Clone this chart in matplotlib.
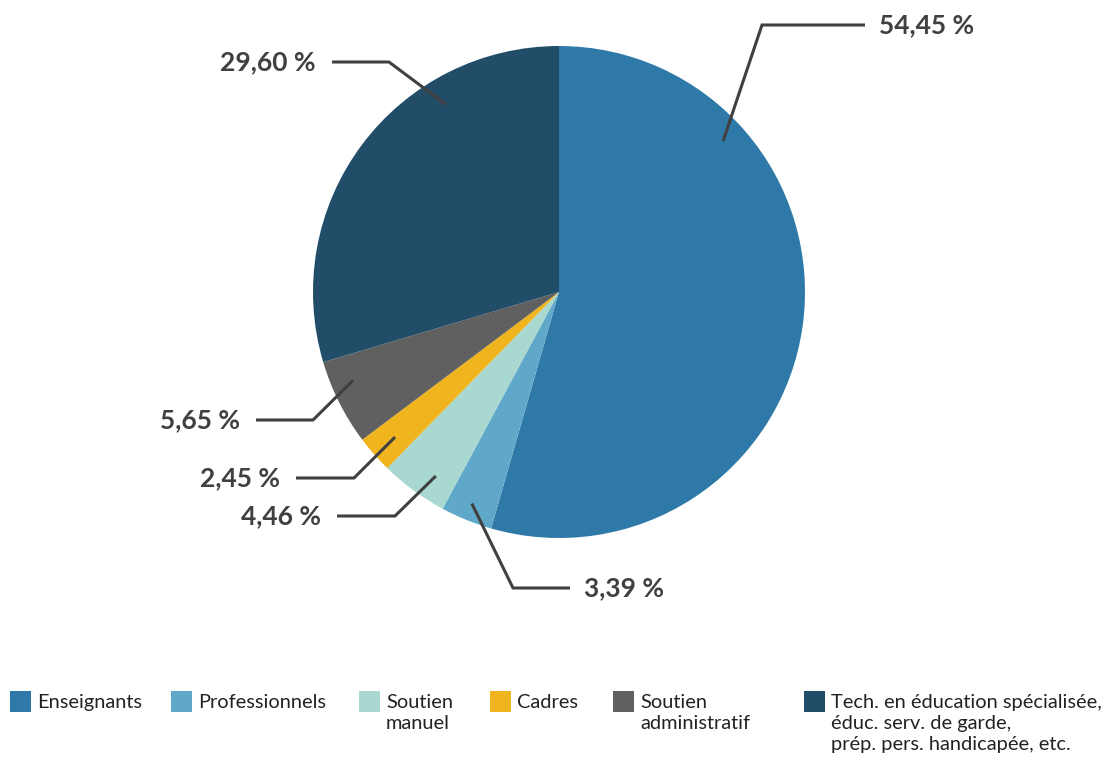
import numpy as np
import matplotlib.pyplot as plt
from matplotlib.patches import Rectangle

plt.rcParams['font.family'] = ['Lato', 'DejaVu Sans']

categories = ['Enseignants', 'Professionnels', 'Soutien\nmanuel', 'Cadres',
              'Soutien\nadministratif',
              'Tech. en éducation spécialisée,\néduc. serv. de garde,\nprép. pers. handicapée, etc.']
values = [54.45, 3.39, 4.46, 2.45, 5.65, 29.60]
colors = ['#2e79a8', '#5fa8c9', '#a8d8cf', '#f0b51e', '#606060', '#214d69']

W, H = 1107, 761
fig = plt.figure(figsize=(W / 100, H / 100), dpi=100)
ax = fig.add_axes([0, 0, 1, 1])
ax.set_xlim(0, W)
ax.set_ylim(0, H)
ax.set_aspect('equal')
ax.axis('off')

cx, cy, R = 559, H - 292, 246
ax.pie(values, colors=colors, startangle=90, counterclock=False,
       center=(cx, cy), radius=R, frame=True,
       wedgeprops=dict(linewidth=0))
ax.set_xlim(0, W)
ax.set_ylim(0, H)
ax.axis('off')

# leader layout: anchor angle (deg), anchor radius fraction, elbow (px), end x, text side
leaders = [
    (42.6, 0.906, (762, 25), 865, 'left'),
    (247.6, 0.93, (513, 588), 570, 'left'),
    (236.2, 0.90, (395, 516), 337, 'right'),
    (221.5, 0.89, (354, 478), 296, 'right'),
    (203.2, 0.91, (313, 420), 256, 'right'),
    (121.1, 0.89, (389, 62), 332, 'right'),
]
line_c = '#404040'
for v, (ang, rf, (ex, ey), endx, side) in zip(values, leaders):
    a = np.deg2rad(ang)
    x0, y0 = cx + rf * R * np.cos(a), cy + rf * R * np.sin(a)
    ax.plot([x0, ex, endx], [y0, H - ey, H - ey], color=line_c, lw=2.2,
            solid_capstyle='butt', solid_joinstyle='miter')
    lab = f'{v:.2f}'.replace('.', ',') + ' %'
    if side == 'left':
        ax.text(endx + 14, H - ey, lab, ha='left', va='center', fontsize=19,
                fontweight='bold', color=line_c)
    else:
        ax.text(endx - 16, H - ey, lab, ha='right', va='center', fontsize=19,
                fontweight='bold', color=line_c)

# legend
leg_x = [10, 171, 359, 490, 613, 804]
for c, lab, lx in zip(colors, categories, leg_x):
    ax.add_patch(Rectangle((lx, H - 712), 21, 21, color=c, lw=0))
    ax.text(lx + 27, H - 694, lab, ha='left', va='top', fontsize=14.4,
            color='#222222', linespacing=1.3)

fig.savefig('out.png', dpi=100)
